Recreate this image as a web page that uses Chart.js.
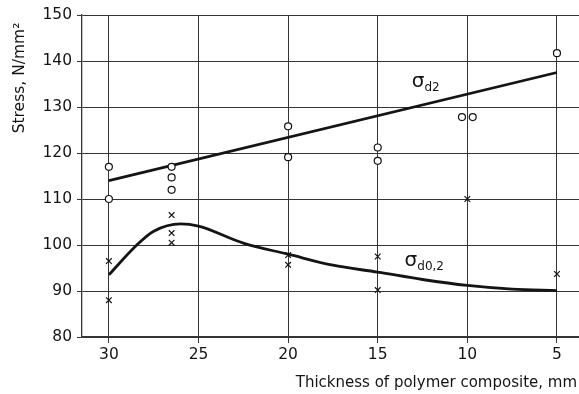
<!DOCTYPE html>
<html>
<head>
<meta charset="utf-8">
<script src="https://cdn.jsdelivr.net/npm/chart.js@4/dist/chart.umd.min.js"></script>
<style>
  html, body { margin: 0; padding: 0; background: #fff; }
  #wrap { width: 579px; height: 394px; }
</style>
</head>
<body>
<div id="wrap"><canvas id="chartStress" width="579" height="394"></canvas></div>
<script>
// thickness ticks (mm)
const xTicks = [30, 25, 20, 15, 10, 5];

// sigma_d2 test points (circles)
const circleX = [30, 30, 26.5, 26.5, 26.5, 20, 20, 15, 15, 10.3, 9.7, 5];
const circleY = [117, 110, 117, 114.7, 112, 125.8, 119.1, 121.2, 118.3, 127.8, 127.8, 141.7];

// sigma_d0,2 test points (crosses)
const crossX = [30, 30, 26.5, 26.5, 26.5, 20, 20, 15, 15, 10, 5];
const crossY = [96.5, 88, 106.5, 102.6, 100.5, 97.8, 95.7, 97.5, 90.2, 110, 93.7];

// fitted curves
const fitD2X = [30, 5];
const fitD2Y = [114, 137.5];
const fitD02X = [30, 28.5, 27.5, 26, 25, 22.5, 20, 17.5, 15, 12.5, 10, 7.5, 5];
const fitD02Y = [93.5, 99.8, 103, 104.6, 104.1, 100.4, 98, 95.6, 94.1, 92.5, 91.2, 90.4, 90.1];

const yTitle = 'Stress, N/mm²';
const xTitle = 'Thickness of polymer composite, mm';

const toPts = (xs, ys) => xs.map((x, i) => ({ x: x, y: ys[i] }));

const ink = '#141414';
const gridCol = '#353535';
const font = 'DejaVu Sans';

// sigma labels on the curves + axis titles
const extraText = {
    id: 'extraText',
    afterDatasetsDraw(chart) {
        const { ctx, scales } = chart;
        const put = (xv, yv, sub) => {
            const px = scales.x.getPixelForValue(xv);
            const py = scales.y.getPixelForValue(yv);
            ctx.save();
            ctx.fillStyle = ink;
            ctx.textBaseline = 'alphabetic';
            ctx.textAlign = 'left';
            ctx.font = '20px "' + font + '"';
            ctx.fillText('σ', px, py);
            const w = ctx.measureText('σ').width;
            ctx.font = '12px "' + font + '"';
            ctx.fillText(sub, px + w, py + 4);
            ctx.restore();
        };
        put(13.1, 134.3, 'd2');
        put(13.5, 95.4, 'd0,2');

        ctx.save();
        ctx.fillStyle = ink;
        ctx.translate(20, 78);
        ctx.rotate(-Math.PI / 2);
        ctx.textAlign = 'center';
        ctx.textBaseline = 'middle';
        ctx.font = '15.5px "' + font + '"';
        ctx.fillText(yTitle, 0, 0);
        ctx.restore();

        ctx.save();
        ctx.fillStyle = ink;
        ctx.textAlign = 'right';
        ctx.textBaseline = 'middle';
        ctx.font = '15px "' + font + '"';
        ctx.fillText(xTitle, 577, 383);
        ctx.restore();
    }
};

new Chart(document.getElementById('chartStress').getContext('2d'), {
    type: 'scatter',
    data: {
        datasets: [
            {
                label: 'σd2 points',
                data: toPts(circleX, circleY),
                pointStyle: 'circle',
                pointRadius: 3.5,
                pointBorderWidth: 1.2,
                pointBorderColor: ink,
                pointBackgroundColor: '#fff',
                showLine: false,
                order: 0
            },
            {
                label: 'σd0,2 points',
                data: toPts(crossX, crossY),
                pointStyle: 'crossRot',
                pointRadius: 4,
                pointBorderWidth: 1.2,
                pointBorderColor: ink,
                showLine: false,
                order: 0
            },
            {
                label: 'σd2',
                data: toPts(fitD2X, fitD2Y),
                showLine: true,
                borderColor: ink,
                borderWidth: 2.8,
                pointRadius: 0,
                order: 1
            },
            {
                label: 'σd0,2',
                data: toPts(fitD02X, fitD02Y),
                showLine: true,
                cubicInterpolationMode: 'monotone',
                borderColor: ink,
                borderWidth: 2.8,
                pointRadius: 0,
                order: 1
            }
        ]
    },
    options: {
        responsive: false,
        animation: false,
        layout: { autoPadding: false, padding: { top: 15, right: 0, left: 0, bottom: 0 } },
        plugins: {
            legend: { display: false },
            tooltip: { enabled: false }
        },
        scales: {
            x: {
                type: 'linear',
                reverse: true,
                min: 3.77,
                max: 31.5,
                afterBuildTicks: (scale) => {
                    scale.ticks = xTicks.map(v => ({ value: v }));
                },
                afterFit: (scale) => {
                    scale.height = 57;
                    scale.paddingLeft = 0;
                    scale.paddingRight = 0;
                },
                grid: { color: gridCol, lineWidth: 1, tickLength: 6 },
                border: { display: true, color: gridCol, width: 1.3 },
                ticks: {
                    color: ink,
                    padding: 3,
                    maxRotation: 0,
                    font: { family: font, size: 15.5 }
                }
            },
            y: {
                type: 'linear',
                min: 80,
                max: 150,
                afterFit: (scale) => { scale.width = 82; },
                grid: { color: gridCol, lineWidth: 1, tickLength: 5 },
                border: { display: true, color: gridCol, width: 1.3 },
                ticks: {
                    stepSize: 10,
                    color: ink,
                    padding: 5,
                    font: { family: font, size: 15.5 }
                }
            }
        }
    },
    plugins: [extraText]
});
</script>
</body>
</html>
